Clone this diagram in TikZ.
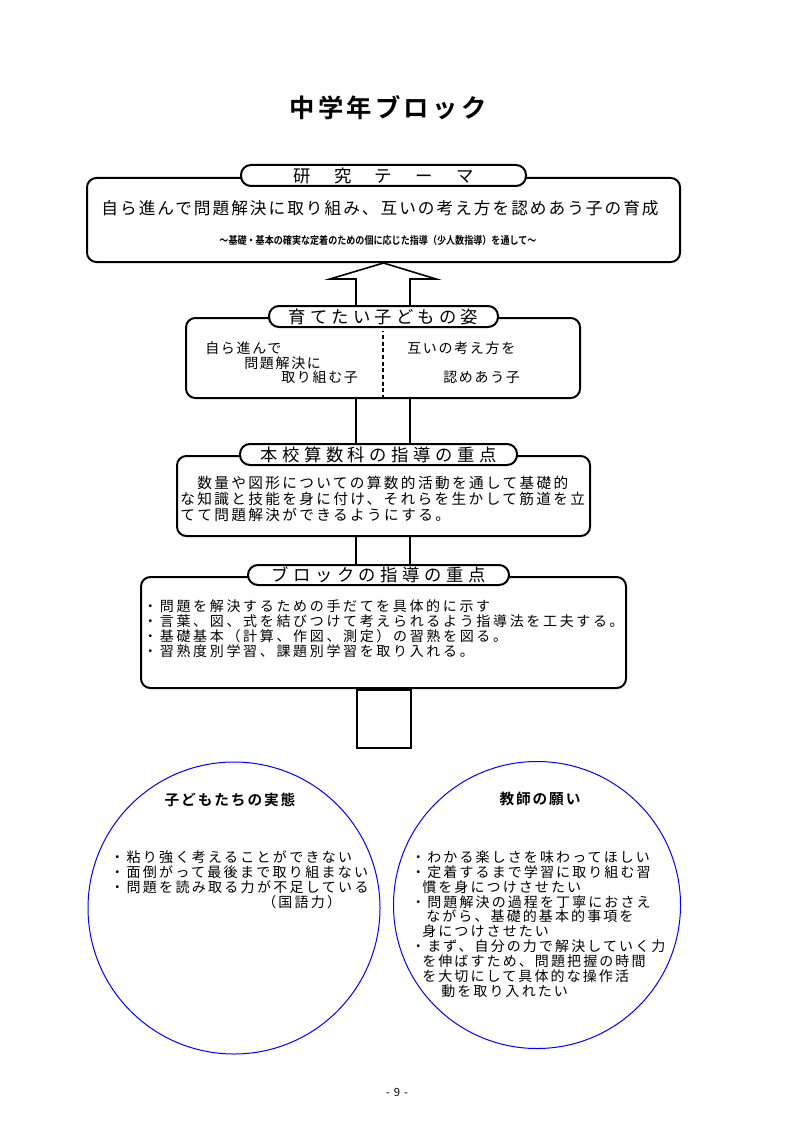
\documentclass[tikz,border=0pt]{standalone}
\usepackage{fontspec}
\setmainfont{Noto Sans CJK JP}[BoldFont={Noto Sans CJK JP Bold}]
\usetikzlibrary{calc}
\newcommand\jfs[3]{\fontsize{#1}{#2}\selectfont\addfontfeatures{LetterSpace=#3}}
\begin{document}
\begin{tikzpicture}[x=0.75pt,y=-0.75pt,
  box/.style={draw, line width=1.5pt, rounded corners=7pt, fill=white, inner sep=0pt},
  capsule/.style={draw, line width=1.5pt, rounded corners=7.5pt, fill=white, inner sep=0pt, minimum height=15.75pt},
  shaft/.style={line width=1.5pt},
  ring/.style={draw=blue, line width=0.75pt, circle, inner sep=0pt},
  txt/.style={inner sep=0pt, anchor=west, align=left},
  ctxt/.style={inner sep=0pt, align=center}]
\useasboundingbox (0,0) rectangle (794,1123);
\fill[white] (0,0) rectangle (794,1123);

% title
\node[ctxt, font=\bfseries\jfs{19pt}{22pt}{13}] (title) at (388,108) {中学年ブロック};

% theme box
\node[box, minimum width=444.75pt, minimum height=63pt] (theme) at (383.5,220) {};
\node[capsule, minimum width=213.75pt, font=\jfs{13pt}{15pt}{0}] (cap1) at (383.5,175.5)
  {研\hspace{1.35em}究\hspace{1.35em}テ\hspace{1.35em}ー\hspace{1.35em}マ};
\node[ctxt, font=\jfs{12.5pt}{15pt}{12}] (themetext) at (380,208)
  {自ら進んで問題解決に取り組み、互いの考え方を認めあう子の育成};
\node[ctxt, font=\bfseries\jfs{8pt}{10pt}{0}] (subtitle) at (378,240)
  {\scalebox{0.85}[1]{～基礎・基本の確実な定着のための個に応じた指導（少人数指導）を通して～}};

% box 2
\node[box, minimum width=295.5pt, minimum height=60pt] (box2) at (383,358) {};
\node[capsule, minimum width=171.75pt, font=\jfs{13pt}{15pt}{24}] (cap2) at (383.5,316.5) {育てたい子どもの姿};
\draw[line width=1.5pt, dash pattern=on 3pt off 2pt] (box2.south) -- ($(box2.south)+(0,-68)$);
\node[txt, font=\jfs{10.5pt}{12pt}{12}] (l2a) at (205,348) {自ら進んで};
\node[txt, font=\jfs{10.5pt}{12pt}{12}] (l2b) at (244,363) {問題解決に};
\node[txt, font=\jfs{10.5pt}{12pt}{12}] (l2c) at (281,377) {取り組む子};
\node[txt, font=\jfs{10.5pt}{12pt}{12}] (r2a) at (407,348) {互いの考え方を};
\node[txt, font=\jfs{10.5pt}{12pt}{12}] (r2b) at (443,377) {認めあう子};

% hollow arrow from box2 up to theme
\coordinate (al) at ($(theme.south)+(-27.5,16)$);
\coordinate (ar) at ($(theme.south)+(26.5,16)$);
\draw[line width=1.2pt, line join=miter]
  (al |- cap2.north) -- (al) -- ($(theme.south)+(-53.5,16)$) -- (theme.south)
  -- ($(theme.south)+(52.5,16)$) -- (ar) -- (ar |- cap2.north);

% box 3
\node[box, minimum width=309.75pt, minimum height=60pt] (box3) at (383.5,496) {};
\node[capsule, minimum width=207.75pt, font=\jfs{13pt}{15pt}{26}] (cap3) at (378.5,454.5) {本校算数科の指導の重点};
\coordinate (s2l) at ($(box2.south)+(-27,0)$);
\coordinate (s2r) at ($(box2.south)+(27,0)$);
\draw[shaft] (s2l) -- (s2l |- cap3.north);
\draw[shaft] (s2r) -- (s2r |- cap3.north);
\node[txt, font=\jfs{11pt}{12pt}{16}] (t3) at (180,499)
  {　数量や図形についての算数的活動を通して基礎的\\な知識と技能を身に付け、それらを生かして筋道を立\\てて問題解決ができるようにする。};

% box 4
\node[box, minimum width=363.75pt, minimum height=83.25pt] (box4) at (383.5,632.5) {};
\node[capsule, minimum width=195.75pt, minimum height=15pt, font=\jfs{13pt}{15pt}{26}] (cap4) at (378.5,575) {ブロックの指導の重点};
\coordinate (s3l) at ($(box3.south)+(-27.5,0)$);
\coordinate (s3r) at ($(box3.south)+(26.5,0)$);
\draw[shaft] (s3l) -- (s3l |- cap4.north);
\draw[shaft] (s3r) -- (s3r |- cap4.north);
\node[txt, font=\jfs{10.5pt}{11.25pt}{19}] (t4) at (143,628.5)
  {・問題を解決するための手だてを具体的に示す\\・言葉、図、式を結びつけて考えられるよう指導法を工夫する。\\・基礎基本（計算、作図、測定）の習熟を図る。\\・習熟度別学習、課題別学習を取り入れる。};

% stem below box 4
\node[draw, line width=1.5pt, inner sep=0pt, minimum width=40.5pt, minimum height=43.5pt, anchor=north] (stem) at (box4.south) {};

% circles
\node[ring, minimum size=219pt] (cl) at (234,908) {};
\node[ring, minimum size=215.25pt] (cr) at (537,905) {};
\node[ctxt, font=\bfseries\jfs{11pt}{12pt}{13}] (clt) at (230,800) {子どもたちの実態};
\node[txt, font=\jfs{10.5pt}{11.25pt}{16.5}] (clx) at (110,872)
  {・粘り強く考えることができない\\・面倒がって最後まで取り組まない\\・問題を読み取る力が不足している};
\node[txt, font=\jfs{10.5pt}{11.25pt}{16}] (clk) at (262,902) {（国語力）};
\node[ctxt, font=\bfseries\jfs{11pt}{12pt}{13}] (crt) at (540,799) {教師の願い};
\node[txt, font=\jfs{10.5pt}{11.15pt}{15}] (crx) at (411,924)
  {・わかる楽しさを味わってほしい\\
   ・定着するまで学習に取り組む習\\
   \hspace*{8.25pt}慣を身につけさせたい\\
   ・問題解決の過程を丁寧におさえ\\
   \hspace*{11.25pt}ながら、基礎的基本的事項を\\
   \hspace*{8.25pt}身につけさせたい\\
   ・まず、自分の力で解決していく力\\
   \hspace*{8.25pt}を伸ばすため、問題把握の時間\\
   \hspace*{8.25pt}を大切にして具体的な操作活\\
   \hspace*{22.5pt}動を取り入れたい};

% page number
\node[ctxt, font=\fontsize{8.5pt}{10pt}\selectfont] (pg) at (397,1092) {-\hspace{0.35em}9\hspace{0.35em}-};
\end{tikzpicture}
\end{document}
